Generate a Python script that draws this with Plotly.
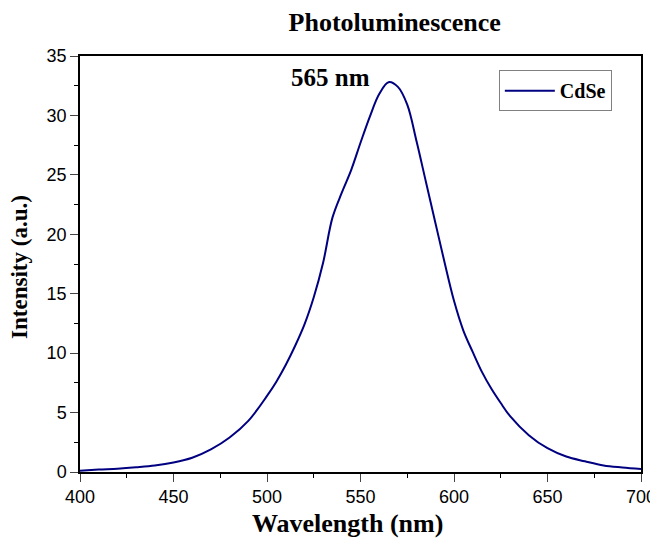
import plotly.graph_objects as go

wavelength = [400, 410, 420, 430, 440, 450, 460, 470, 480, 490, 500, 505, 510, 515, 520,
              525, 530, 535, 540, 545, 550, 555, 560, 565, 570, 575, 580, 585, 590, 595,
              600, 605, 610, 615, 620, 625, 630, 640, 650, 660, 670, 680, 690, 700]
intensity = [0.1, 0.2, 0.28, 0.4, 0.55, 0.8, 1.2, 1.9, 2.9, 4.3, 6.4, 7.6, 9.0, 10.6, 12.4,
             14.7, 17.6, 21.4, 23.5, 25.4, 27.7, 29.9, 31.8, 32.8, 32.4, 30.9, 27.8, 24.4, 21.0, 17.6,
             14.4, 11.9, 10.1, 8.4, 7.0, 5.8, 4.7, 3.1, 2.0, 1.3, 0.9, 0.55, 0.38, 0.25]

x_ticks = [400, 450, 500, 550, 600, 650, 700]
y_ticks = [0, 5, 10, 15, 20, 25, 30, 35]

serif = "Liberation Serif"
sans = "Liberation Sans"

fig = go.Figure()
fig.add_trace(go.Scatter(x=wavelength, y=intensity, mode="lines", name="<b>CdSe</b>",
                         line=dict(color="#000080", width=2, shape="spline", smoothing=1.0)))

fig.add_annotation(x=511.5, y=33.15, xref="x", yref="y", xanchor="left", yanchor="middle",
                   text="<b>565 nm</b>", showarrow=False,
                   font=dict(family=serif, size=25, color="black"))

# axis titles placed as annotations
fig.add_annotation(x=0.476, y=-0.1226, xref="paper", yref="paper", xanchor="center", yanchor="middle",
                   text="<b>Wavelength (nm)</b>", showarrow=False,
                   font=dict(family=serif, size=26, color="black"))
fig.add_annotation(x=-0.107, y=0.493, xref="paper", yref="paper", xanchor="center", yanchor="middle",
                   text="<b>Intensity (a.u.)</b>", showarrow=False, textangle=-90,
                   font=dict(family=serif, size=23, color="black"))

fig.update_layout(
    width=650, height=531,
    margin=dict(l=72, r=17, t=48, b=67),
    paper_bgcolor="white", plot_bgcolor="white",
    title=dict(text="<b>Photoluminescence</b>", x=0.561, xref="paper", xanchor="center",
               y=0.9736, yref="container", yanchor="middle", automargin=False,
               font=dict(family=serif, size=26, color="black")),
    showlegend=True,
    legend=dict(x=0.948, y=0.966, xanchor="right", yanchor="top",
                bordercolor="#808080", borderwidth=1, bgcolor="white", itemwidth=50,
                font=dict(family=serif, size=20, color="black")),
    xaxis=dict(range=[400, 700], tickvals=x_ticks, ticks="outside", ticklen=8, tickwidth=1,
               showline=True, linecolor="black", linewidth=1.5, mirror=True,
               showgrid=False, zeroline=False, automargin=False,
               minor=dict(ticks="outside", ticklen=4, dtick=25, tickcolor="black"),
               tickfont=dict(family=sans, size=18, color="black")),
    yaxis=dict(range=[0, 35], tickvals=y_ticks, ticks="outside", ticklen=8, tickwidth=1,
               showline=True, linecolor="black", linewidth=1.5, mirror=True,
               showgrid=False, zeroline=False, automargin=False,
               minor=dict(ticks="outside", ticklen=4, dtick=2.5, tickcolor="black"),
               tickfont=dict(family=sans, size=18, color="black")),
)

fig.write_html("out.html")
